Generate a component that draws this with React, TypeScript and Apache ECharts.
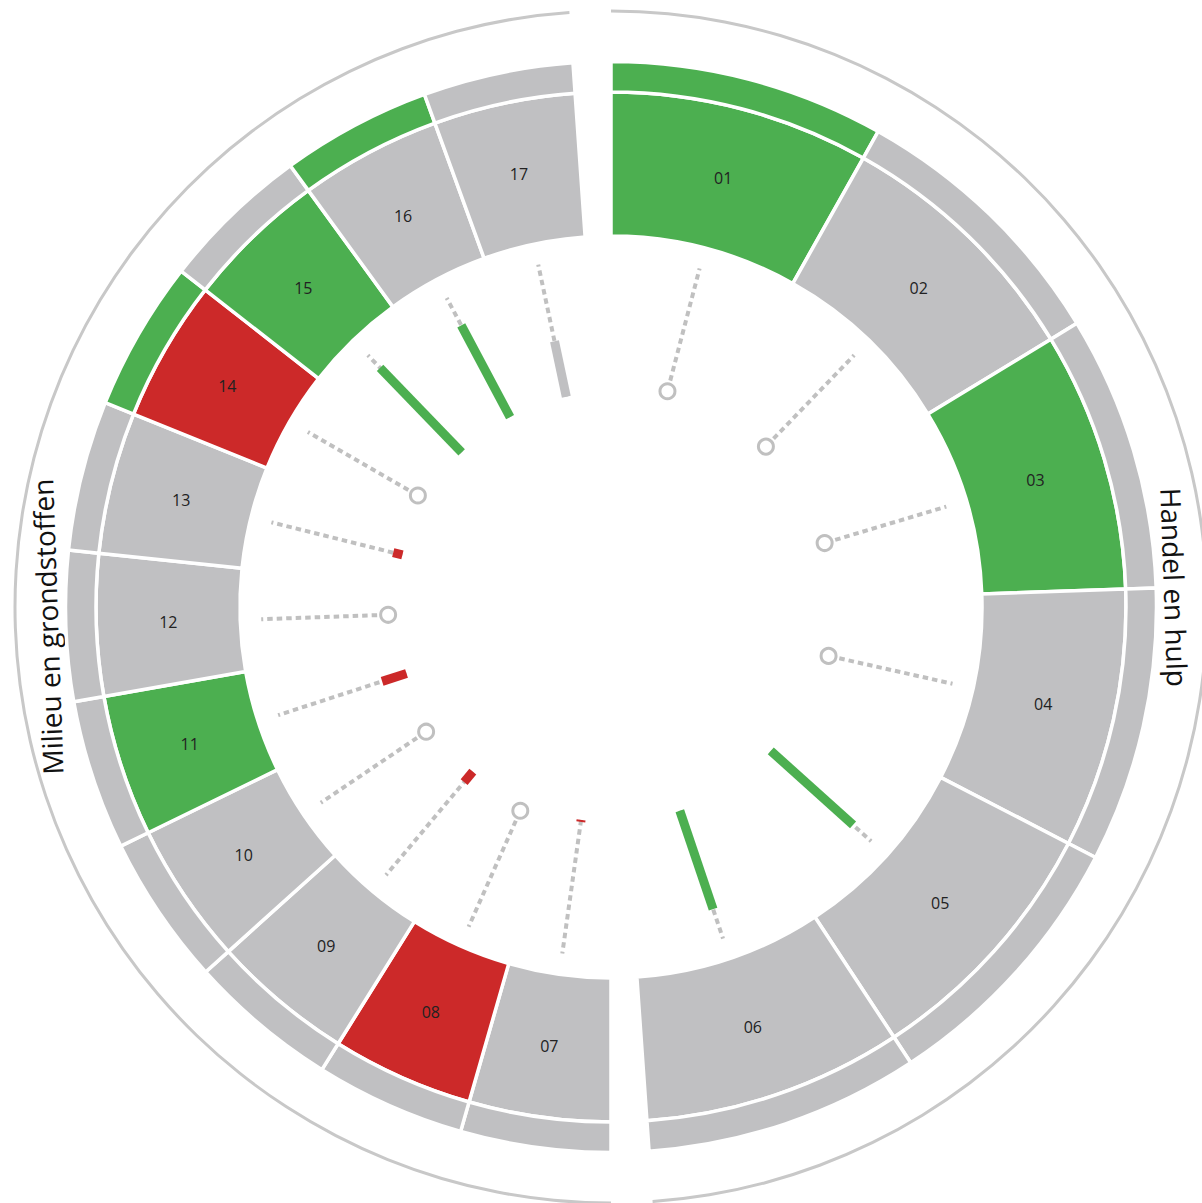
import React, { useEffect, useRef } from 'react';
import * as echarts from 'echarts';

// ---------- data ----------
const GROUPS = ['Handel en hulp', 'Milieu en grondstoffen'];
const GROUP_SIZES = [6, 11];
const CATEGORIES = ['01', '02', '03', '04', '05', '06', '07', '08', '09', '10', '11', '12', '13', '14', '15', '16', '17'];
const RING_STATUS = ['green', 'gray', 'green', 'gray', 'gray', 'gray', 'gray', 'red', 'gray', 'gray', 'green', 'gray', 'gray', 'red', 'green', 'gray', 'gray'];
const OUTER_STATUS = ['green', 'gray', 'gray', 'gray', 'gray', 'gray', 'gray', 'gray', 'gray', 'gray', 'gray', 'gray', 'gray', 'green', 'gray', 'green', 'gray'];
const INDICATOR_VALUES: (number | null)[] = [null, null, null, null, 0.82, 0.77, 0.015, null, 0.1, null, 0.19, null, 0.07, null, 0.87, 0.77, 0.42];
const INDICATOR_STATUS: (string | null)[] = [null, null, null, null, 'green', 'green', 'red', null, 'red', null, 'red', null, 'red', null, 'green', 'green', 'gray'];
const GAP_DEG = 4;

// ---------- styles ----------
const COLORS: Record<string, string> = { green: '#4caf50', red: '#cc2929', gray: '#c0c0c2' };
const CX = 611;
const CY = 607;
const LABEL_R = 564;

export default function App() {
  const ref = useRef<HTMLDivElement>(null);

  useEffect(() => {
    document.body.style.margin = '0';
    if (!ref.current) return;
    const chart = echarts.init(ref.current, undefined, { renderer: 'svg' });

    const groupSpan = (360 - GROUPS.length * GAP_DEG) / GROUPS.length;

    const segStart: number[] = [];
    const segSpan: number[] = [];
    const groupMid: number[] = [];
    let angle = 0;
    GROUP_SIZES.forEach((n) => {
      groupMid.push(angle + groupSpan / 2);
      for (let k = 0; k < n; k++) {
        segStart.push(angle);
        segSpan.push(groupSpan / n);
        angle += groupSpan / n;
      }
      angle += GAP_DEG;
    });

    const buildPie = (status: string[] | null, withLabel: boolean) => {
      const data: any[] = [];
      let i = 0;
      GROUP_SIZES.forEach((n, g) => {
        for (let k = 0; k < n; k++) {
          data.push({
            name: CATEGORIES[i],
            value: segSpan[i],
            itemStyle: { color: status ? COLORS[status[i]] : 'rgba(0,0,0,0)' },
            label: { show: withLabel },
          });
          i++;
        }
        data.push({
          name: 'gap' + g,
          value: GAP_DEG,
          itemStyle: { color: 'rgba(0,0,0,0)', borderWidth: 0 },
          label: { show: false },
        });
      });
      return data;
    };

    const arcData: any[] = [];
    GROUPS.forEach((name, g) => {
      arcData.push({ name, value: groupSpan, itemStyle: { color: '#c8c8c8' } });
      arcData.push({ name: 'gap' + g, value: GAP_DEG, itemStyle: { color: 'rgba(0,0,0,0)' } });
    });

    const indicatorData = CATEGORIES.map((c, i) => [
      INDICATOR_VALUES[i] ?? 0,
      segStart[i] + segSpan[i] / 2,
    ]);

    const option: any = {
      animation: false,
      polar: { center: [CX, CY], radius: [215, 350] },
      angleAxis: { type: 'value', min: 0, max: 360, startAngle: 90, clockwise: true, show: false },
      radiusAxis: { type: 'value', min: 0, max: 1, show: false },
      series: [
        {
          type: 'pie',
          center: [CX, CY],
          radius: [371, 515],
          startAngle: 90,
          clockwise: true,
          silent: true,
          itemStyle: { borderColor: '#ffffff', borderWidth: 3.5 },
          label: { show: false },
          labelLine: { show: false },
          emphasis: { disabled: true },
          data: buildPie(RING_STATUS, false),
        },
        {
          type: 'pie',
          center: [CX, CY],
          radius: [367, 513],
          startAngle: 90,
          clockwise: true,
          silent: true,
          avoidLabelOverlap: false,
          itemStyle: { borderWidth: 0 },
          label: {
            position: 'inside',
            formatter: '{b}',
            color: '#222222',
            fontSize: 16,
            fontFamily: '"Open Sans", sans-serif',
          },
          labelLine: { show: false },
          emphasis: { disabled: true },
          data: buildPie(null, true),
        },
        {
          type: 'pie',
          center: [CX, CY],
          radius: [515, 545.5],
          startAngle: 90,
          clockwise: true,
          silent: true,
          itemStyle: { borderColor: '#ffffff', borderWidth: 3.5 },
          label: { show: false },
          labelLine: { show: false },
          emphasis: { disabled: true },
          data: buildPie(OUTER_STATUS, false),
        },
        {
          type: 'pie',
          center: [CX, CY],
          radius: [594.5, 597.5],
          startAngle: 90,
          clockwise: true,
          silent: true,
          label: { show: false },
          labelLine: { show: false },
          emphasis: { disabled: true },
          data: arcData,
        },
        {
          type: 'custom',
          coordinateSystem: 'polar',
          silent: true,
          data: indicatorData,
          renderItem: (params: any, api: any) => {
            const i = params.dataIndex;
            const a = api.value(1);
            const v = api.value(0);
            const p0 = api.coord([0, a]);
            const p1 = api.coord([1, a]);
            const children: any[] = [
              {
                type: 'line',
                shape: { x1: p0[0], y1: p0[1], x2: p1[0], y2: p1[1] },
                style: { stroke: '#c0c0c0', lineWidth: 4, lineDash: [5.5, 4] },
              },
            ];
            const st = INDICATOR_STATUS[i];
            if (st && INDICATOR_VALUES[i] !== null) {
              const pv = api.coord([v, a]);
              children.push({
                type: 'line',
                shape: { x1: p0[0], y1: p0[1], x2: pv[0], y2: pv[1] },
                style: { stroke: COLORS[st], lineWidth: 9, lineCap: 'butt' },
              });
            } else {
              const dx = p1[0] - p0[0];
              const dy = p1[1] - p0[1];
              const len = Math.sqrt(dx * dx + dy * dy);
              const off = 8;
              children.push({
                type: 'circle',
                shape: { cx: p0[0] + (dx / len) * off, cy: p0[1] + (dy / len) * off, r: 7.5 },
                style: { fill: '#ffffff', stroke: '#c0c0c0', lineWidth: 3 },
              });
            }
            return { type: 'group', children };
          },
        },
      ],
      graphic: GROUPS.map((name, g) => {
        const th = (groupMid[g] * Math.PI) / 180;
        const right = Math.sin(th) > 0;
        const rotDeg = right ? -groupMid[g] : 360 - groupMid[g];
        return {
          type: 'text',
          x: CX + LABEL_R * Math.sin(th),
          y: CY - LABEL_R * Math.cos(th),
          rotation: (rotDeg * Math.PI) / 180,
          silent: true,
          style: {
            text: name,
            fill: '#111111',
            fontSize: 28,
            fontFamily: '"Open Sans", sans-serif',
            textAlign: 'center',
            textVerticalAlign: 'middle',
            align: 'center',
            verticalAlign: 'middle',
          },
        };
      }),
    };

    chart.setOption(option);
    return () => chart.dispose();
  }, []);

  return <div ref={ref} style={{ width: 1202, height: 1203 }} />;
}
